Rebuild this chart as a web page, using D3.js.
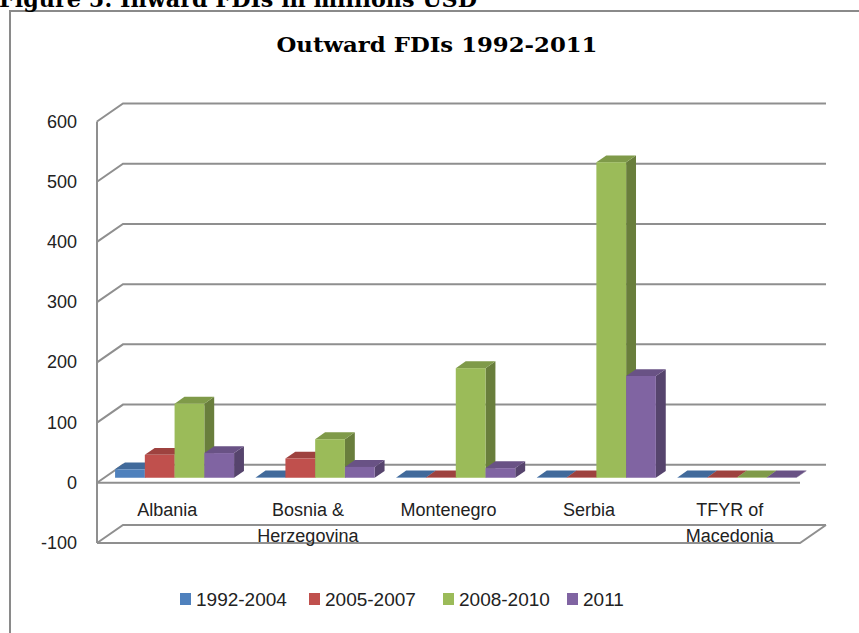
<!DOCTYPE html>
<html>
<head>
<meta charset="utf-8">
<script src="https://cdn.jsdelivr.net/npm/d3@7"></script>
<style>
  body { margin: 0; background: #fff; }
  svg { display: block; }
</style>
</head>
<body>
<svg width="859" height="633"></svg>
<script>
// data
const categories = ['Albania', 'Bosnia & Herzegovina', 'Montenegro', 'Serbia', 'TFYR of Macedonia'];
const categoryLines = [['Albania'], ['Bosnia &', 'Herzegovina'], ['Montenegro'], ['Serbia'], ['TFYR of', 'Macedonia']];
const seriesNames = ['1992-2004', '2005-2007', '2008-2010', '2011'];
const v1992 = [14, 0.5, 0.5, 0.5, 0.5];
const v2005 = [38, 32, 0.5, 0.5, 0.5];
const v2008 = [123, 64, 182, 524, 0.5];
const v2011 = [41, 18, 16, 169, 0.5];
const yTicks = [-100, 0, 100, 200, 300, 400, 500, 600];
const colors = ['#4f81bd', '#c0504d', '#9bbb59', '#8064a2'];

const seriesValues = [v1992, v2005, v2008, v2011];

const svg = d3.select('svg');

// depth of the 3d box
const DX = 26, DY = -18;
const f0 = 0.28, f1 = 0.66; // bar front / back depth fraction

const x = d3.scaleBand().domain(categories).range([97, 800]);
const xi = d3.scaleBand().domain(seriesNames).range([0, x.bandwidth()]).paddingOuter(0.363);
const y = d3.scaleLinear().domain([-100, 600]).range([543, 121.5]);

const P = (px, py, f) => [px + DX * f, py + DY * f];

// frame
svg.append('rect')
  .attr('x', 10).attr('y', 11).attr('width', 900).attr('height', 700)
  .attr('fill', 'none').attr('stroke', '#8a8a8a').attr('stroke-width', 2);

// caption cut at the top
svg.append('text')
  .attr('x', -1).attr('y', 7)
  .attr('font-family', 'DejaVu Serif')
  .attr('font-weight', 'bold')
  .attr('font-size', 22)
  .attr('textLength', 478)
  .attr('lengthAdjust', 'spacingAndGlyphs')
  .text('Figure 5: Inward FDIs in millions USD');

// title
svg.append('text')
  .attr('x', 437).attr('y', 52)
  .attr('text-anchor', 'middle')
  .attr('font-family', 'DejaVu Serif')
  .attr('font-weight', 'bold')
  .attr('font-size', 20)
  .attr('textLength', 321)
  .attr('lengthAdjust', 'spacingAndGlyphs')
  .text('Outward FDIs 1992-2011');

const grid = svg.append('g')
  .attr('stroke', '#8f8f8f').attr('stroke-width', 2).attr('fill', 'none');

const [xa, xb] = x.range();

// back wall + left wall gridlines
yTicks.forEach(t => {
  const p0 = P(xa, y(t), 0), p1 = P(xa, y(t), 1), p2 = P(xb, y(t), 1);
  grid.append('path').attr('d', d3.line()([p0, p1, p2]));
});

// front axis, floor edges
grid.append('line').attr('x1', xa).attr('x2', xa).attr('y1', y(600)).attr('y2', y(-100));
grid.append('line').attr('x1', xa).attr('x2', xb).attr('y1', y(0)).attr('y2', y(0));
grid.append('path').attr('d', d3.line()([[xa, y(-100)], [xb, y(-100)], P(xb, y(-100), 1)]));

// y labels
svg.append('g').selectAll('text')
  .data(yTicks)
  .join('text')
  .attr('x', 77).attr('y', d => y(d) + 6)
  .attr('text-anchor', 'end')
  .attr('font-family', 'Liberation Sans, Arial, sans-serif')
  .attr('font-size', 18)
  .attr('fill', '#222')
  .text(d => d);

// category labels
const cl = svg.append('g').selectAll('text')
  .data(categories)
  .join('text')
  .attr('text-anchor', 'middle')
  .attr('font-family', 'Liberation Sans, Arial, sans-serif')
  .attr('font-size', 18)
  .attr('fill', '#222');
cl.each(function (d, i) {
  const cx = x(d) + x.bandwidth() / 2;
  d3.select(this).selectAll('tspan')
    .data(categoryLines[i])
    .join('tspan')
    .attr('x', cx)
    .attr('y', (s, j) => 516 + j * 25.5)
    .text(s => s);
});

// bars, left to right
const bars = svg.append('g');
categories.forEach((c, ci) => {
  seriesNames.forEach((s, si) => {
    const v = seriesValues[si][ci];
    const x0 = x(c) + xi(s), w = xi.bandwidth();
    const yt = y(v), yb = y(0);
    const base = d3.color(colors[si]);
    const g = bars.append('g');
    g.append('path')
      .attr('d', d3.line()([P(x0 + w, yt, f0), P(x0 + w, yt, f1), P(x0 + w, yb, f1), P(x0 + w, yb, f0)]) + 'Z')
      .attr('fill', base.darker(1.1));
    g.append('path')
      .attr('d', d3.line()([P(x0, yt, f0), P(x0 + w, yt, f0), P(x0 + w, yt, f1), P(x0, yt, f1)]) + 'Z')
      .attr('fill', base.darker(0.55));
    const fp = P(x0, yt, f0);
    g.append('rect')
      .attr('x', fp[0]).attr('y', fp[1])
      .attr('width', w).attr('height', yb - yt)
      .attr('fill', colors[si]);
  });
});

// legend
const legendX = [180, 309, 443, 567];
const lg = svg.append('g').selectAll('g')
  .data(seriesNames)
  .join('g')
  .attr('transform', (d, i) => `translate(${legendX[i]},593)`);
lg.append('rect').attr('width', 11).attr('height', 12).attr('fill', (d, i) => colors[i]);
lg.append('text')
  .attr('x', 16).attr('y', 13)
  .attr('font-family', 'Liberation Sans, Arial, sans-serif')
  .attr('font-size', 19)
  .attr('fill', '#222')
  .text(d => d);
</script>
</body>
</html>
